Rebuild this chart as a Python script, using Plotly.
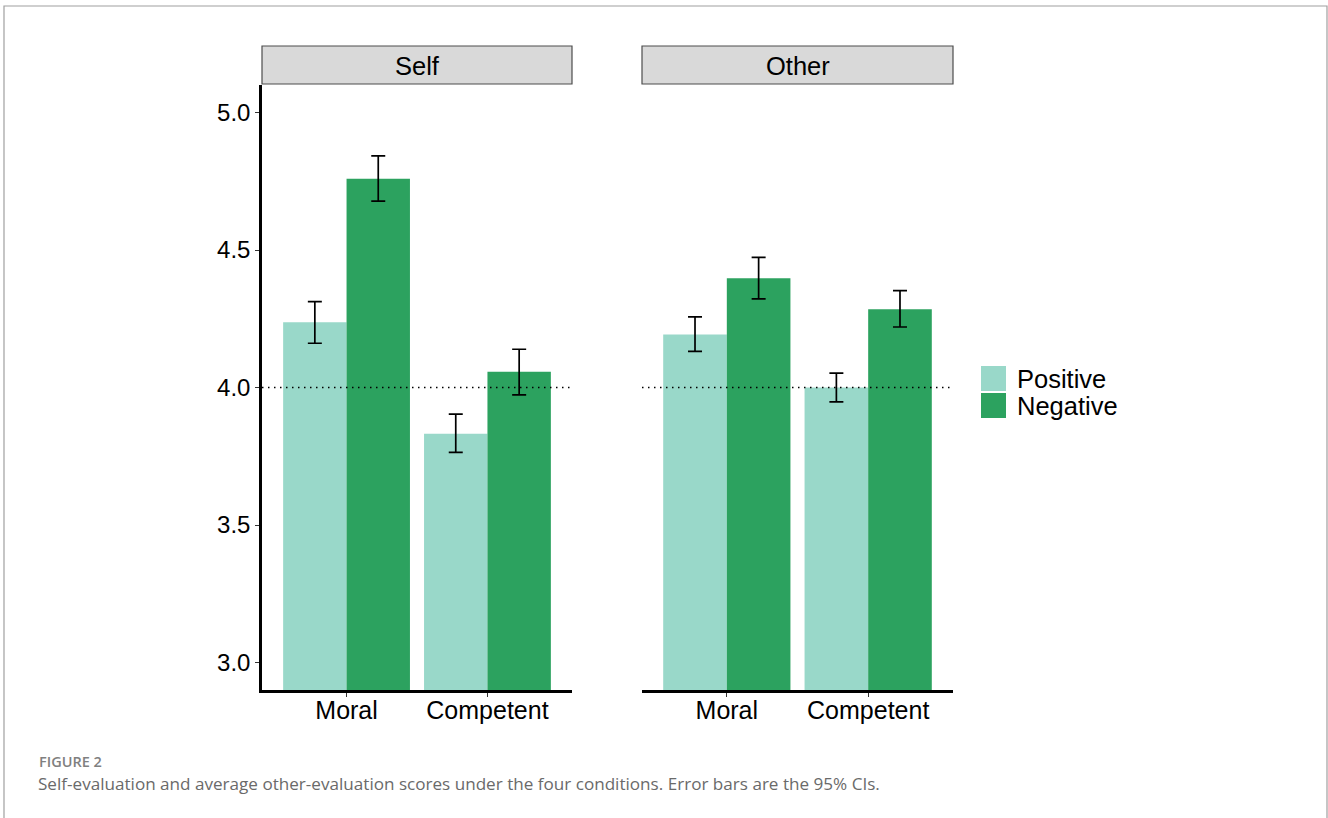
import plotly.graph_objects as go

# Data: mean scores with 95% CI bounds
panels = ["Self", "Other"]
traits = ["Moral", "Competent"]
valences = ["Positive", "Negative"]

self_positive = [4.237, 3.832]
self_positive_hi = [4.312, 3.903]
self_positive_lo = [4.161, 3.764]

self_negative = [4.759, 4.057]
self_negative_hi = [4.842, 4.139]
self_negative_lo = [4.678, 3.973]

other_positive = [4.193, 4.000]
other_positive_hi = [4.257, 4.052]
other_positive_lo = [4.131, 3.948]

other_negative = [4.397, 4.285]
other_negative_hi = [4.473, 4.352]
other_negative_lo = [4.322, 4.220]

y_ticks = [3.0, 3.5, 4.0, 4.5, 5.0]
y_tick_labels = ["3.0", "3.5", "4.0", "4.5", "5.0"]
reference_level = 4.0

colors = {"Positive": "#99d8c9", "Negative": "#2ca25f"}

W, H = 1328, 818
FONT = "Liberation Sans, Arial, sans-serif"


def px_x(p):
    return p / W


def px_y(p):
    return 1 - p / H


panel_x = [(262, 572), (642, 953)]
y_top, y_bottom = 85, 690

series = {
    "Self": {
        "Positive": (self_positive, self_positive_hi, self_positive_lo),
        "Negative": (self_negative, self_negative_hi, self_negative_lo),
    },
    "Other": {
        "Positive": (other_positive, other_positive_hi, other_positive_lo),
        "Negative": (other_negative, other_negative_hi, other_negative_lo),
    },
}

fig = go.Figure()

for i, panel in enumerate(panels):
    xa = "x" if i == 0 else "x2"
    ya = "y" if i == 0 else "y2"
    for v in valences:
        mean, hi, lo = series[panel][v]
        fig.add_trace(go.Bar(
            x=traits, y=mean, name=v, xaxis=xa, yaxis=ya,
            marker=dict(color=colors[v], line=dict(width=0)),
            error_y=dict(type="data", symmetric=False,
                         array=[h - m for h, m in zip(hi, mean)],
                         arrayminus=[m - l for m, l in zip(mean, lo)],
                         color="black", thickness=1.7, width=7),
            showlegend=False,
        ))

axis_common = dict(
    type="category", categoryorder="array", categoryarray=traits,
    range=[-0.6, 1.6], ticks="outside", ticklen=4, tickwidth=1.2,
    tickcolor="#333", showgrid=False, zeroline=False, showline=True,
    linecolor="black", linewidth=2.5, ticklabelstandoff=-8,
    tickfont=dict(family=FONT, size=25, color="black"),
)
yaxis_common = dict(
    range=[2.9, 5.1], domain=[px_y(y_bottom), px_y(y_top)],
    showgrid=False, zeroline=False, tickvals=y_ticks,
)

fig.update_layout(
    width=W, height=H,
    margin=dict(l=0, r=0, t=0, b=0),
    paper_bgcolor="white", plot_bgcolor="white",
    barmode="group", bargap=0.1, bargroupgap=0,
    showlegend=False,
    xaxis=dict(domain=[px_x(panel_x[0][0]), px_x(panel_x[0][1])], anchor="y", **axis_common),
    xaxis2=dict(domain=[px_x(panel_x[1][0]), px_x(panel_x[1][1])], anchor="y2", **axis_common),
    yaxis=dict(anchor="x", ticktext=y_tick_labels, ticks="outside", ticklen=4,
               tickwidth=1.2, tickcolor="#333", showline=True, linecolor="black",
               linewidth=2.5, tickfont=dict(family=FONT, size=24, color="black"),
               **yaxis_common),
    yaxis2=dict(anchor="x2", showticklabels=False, ticks="", showline=False,
                **yaxis_common),
)

shapes = []
annotations = []

# Outer figure frame
shapes.append(dict(type="rect", xref="paper", yref="paper",
                   x0=px_x(4), x1=px_x(1327), y0=px_y(840), y1=px_y(6),
                   line=dict(color="#a0a0a0", width=1.2), fillcolor="rgba(0,0,0,0)",
                   layer="below"))

for i, panel in enumerate(panels):
    x0, x1 = panel_x[i]
    xref = "x domain" if i == 0 else "x2 domain"
    yref = "y" if i == 0 else "y2"
    # dotted reference line
    shapes.append(dict(type="line", xref=xref, yref=yref, x0=0, x1=1,
                       y0=reference_level, y1=reference_level,
                       line=dict(color="black", width=1.5, dash="1.5px,4.5px")))
    # facet strip
    shapes.append(dict(type="rect", xref="paper", yref="paper",
                       x0=px_x(x0), x1=px_x(x1), y0=px_y(84), y1=px_y(46),
                       fillcolor="#d9d9d9", line=dict(color="#4d4d4d", width=1.2)))
    annotations.append(dict(text=panel, xref="paper", yref="paper",
                            x=px_x((x0 + x1) / 2), y=px_y(66), showarrow=False,
                            xanchor="center", yanchor="middle",
                            font=dict(family=FONT, size=25.5, color="black")))

# Legend keys
legend_x = 981
for j, v in enumerate(valences):
    top = 366 + j * 27
    shapes.append(dict(type="rect", xref="paper", yref="paper",
                       x0=px_x(legend_x), x1=px_x(legend_x + 25),
                       y0=px_y(top + 25), y1=px_y(top),
                       fillcolor=colors[v], line=dict(width=0)))
    annotations.append(dict(text=v, xref="paper", yref="paper",
                            x=px_x(1015), y=px_y(top + 13), showarrow=False,
                            xanchor="left", yanchor="middle",
                            font=dict(family=FONT, size=25.5, color="black")))

# Caption
annotations.append(dict(text="FIGURE 2", xref="paper", yref="paper",
                        x=px_x(37), y=px_y(761), showarrow=False,
                        xanchor="left", yanchor="middle",
                        font=dict(family="Open Sans, sans-serif", size=14.5,
                                  color="#808080", weight=600)))
annotations.append(dict(text="Self-evaluation and average other-evaluation scores under the four conditions. Error bars are the 95% CIs.",
                        xref="paper", yref="paper",
                        x=px_x(36), y=px_y(783), showarrow=False,
                        xanchor="left", yanchor="middle",
                        font=dict(family="Open Sans, sans-serif", size=17.1, color="#6a6a6a")))

fig.update_layout(shapes=shapes, annotations=annotations)

fig.write_html("out.html")
